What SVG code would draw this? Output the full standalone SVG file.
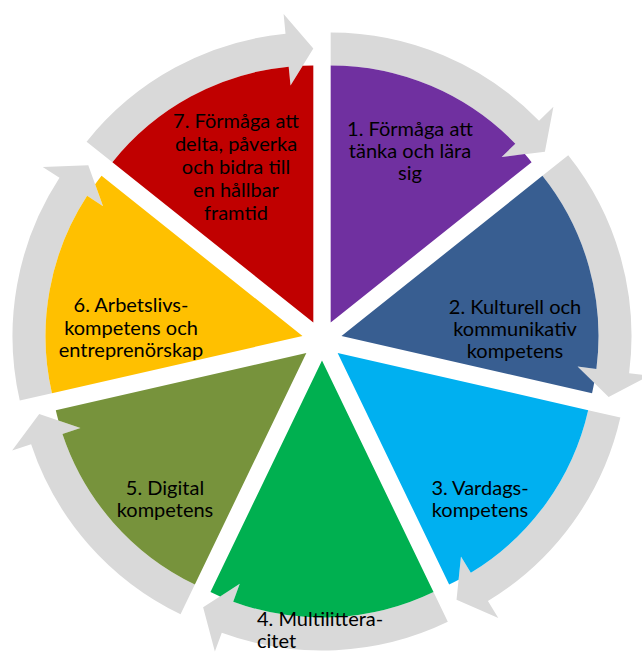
<svg xmlns="http://www.w3.org/2000/svg" width="642" height="652" viewBox="0 0 642 652">
<defs>
<style>
.arrow{fill:#D9D9D9;}
.lbl{font-family:Lato,"Liberation Sans",sans-serif;font-size:20px;fill:#000;text-anchor:middle;}
</style>
<path id="arrowShape" d="M0,-290 A290,290 0 0 1 208.36,-201.71 L222.73,-215.62 L214.22,-170.84 L171.00,-165.54 L184.65,-178.76 A257,257 0 0 0 0,-257 Z"/>
<path id="wedgeShape" d="M0,0 L0,-257 A257,257 0 0 1 184.65,-178.76 L171.00,-165.54 L194.16,-168.38 A257,257 0 0 1 200.93,-160.24 Z"/>
</defs>
<rect width="642" height="652" fill="#FFFFFF"/>
<g id="connectors">
<use href="#arrowShape" class="arrow" transform="translate(322,340.5) rotate(0) translate(8.68,-18.02)"/>
<use href="#arrowShape" class="arrow" transform="translate(322,340.5) rotate(51.4286) translate(8.68,-18.02)"/>
<use href="#arrowShape" class="arrow" transform="translate(322,340.5) rotate(102.857) translate(8.68,-18.02)"/>
<use href="#arrowShape" class="arrow" transform="translate(322,340.5) rotate(154.286) translate(8.68,-18.02)"/>
<use href="#arrowShape" class="arrow" transform="translate(322,340.5) rotate(205.714) translate(8.68,-18.02)"/>
<use href="#arrowShape" class="arrow" transform="translate(322,340.5) rotate(257.143) translate(8.68,-18.02)"/>
<use href="#arrowShape" class="arrow" transform="translate(322,340.5) rotate(308.571) translate(8.68,-18.02)"/>
</g>
<g id="node1">
<use href="#wedgeShape" fill="#7030A0" transform="translate(322,340.5) rotate(0) translate(8.68,-18.02)"/>
<text class="lbl" x="410" y="136">1. Förmåga att</text>
<text class="lbl" x="410" y="158">tänka och lära</text>
<text class="lbl" x="410" y="180">sig</text>
</g>
<g id="node2">
<use href="#wedgeShape" fill="#385E91" transform="translate(322,340.5) rotate(51.4286) translate(8.68,-18.02)"/>
<text class="lbl" x="515" y="314">2. Kulturell och</text>
<text class="lbl" x="515" y="336">kommunikativ</text>
<text class="lbl" x="515" y="358">kompetens</text>
</g>
<g id="node3">
<use href="#wedgeShape" fill="#00B0F0" transform="translate(322,340.5) rotate(102.857) translate(8.68,-18.02)"/>
<text class="lbl" x="480" y="495">3. Vardags-</text>
<text class="lbl" x="480" y="517">kompetens</text>
</g>
<g id="node4">
<use href="#wedgeShape" fill="#00B050" transform="translate(322,340.5) rotate(154.286) translate(8.68,-18.02)"/>
<text class="lbl" x="257" y="626" style="text-anchor:start">4. Multilittera-</text>
<text class="lbl" x="257" y="648" style="text-anchor:start">citet</text>
</g>
<g id="node5">
<use href="#wedgeShape" fill="#77933C" transform="translate(322,340.5) rotate(205.714) translate(8.68,-18.02)"/>
<text class="lbl" x="165" y="495">5. Digital</text>
<text class="lbl" x="165" y="517">kompetens</text>
</g>
<g id="node6">
<use href="#wedgeShape" fill="#FFC000" transform="translate(322,340.5) rotate(257.143) translate(8.68,-18.02)"/>
<text class="lbl" x="131" y="312">6. Arbetslivs-</text>
<text class="lbl" x="131" y="335">kompetens och</text>
<text class="lbl" x="131" y="357">entreprenörskap</text>
</g>
<g id="node7">
<use href="#wedgeShape" fill="#C00000" transform="translate(322,340.5) rotate(308.571) translate(8.68,-18.02)"/>
<text class="lbl" x="236" y="128">7. Förmåga att</text>
<text class="lbl" x="236" y="151">delta, påverka</text>
<text class="lbl" x="236" y="174">och bidra till</text>
<text class="lbl" x="236" y="197">en hållbar</text>
<text class="lbl" x="236" y="220">framtid</text>
</g>
</svg>
